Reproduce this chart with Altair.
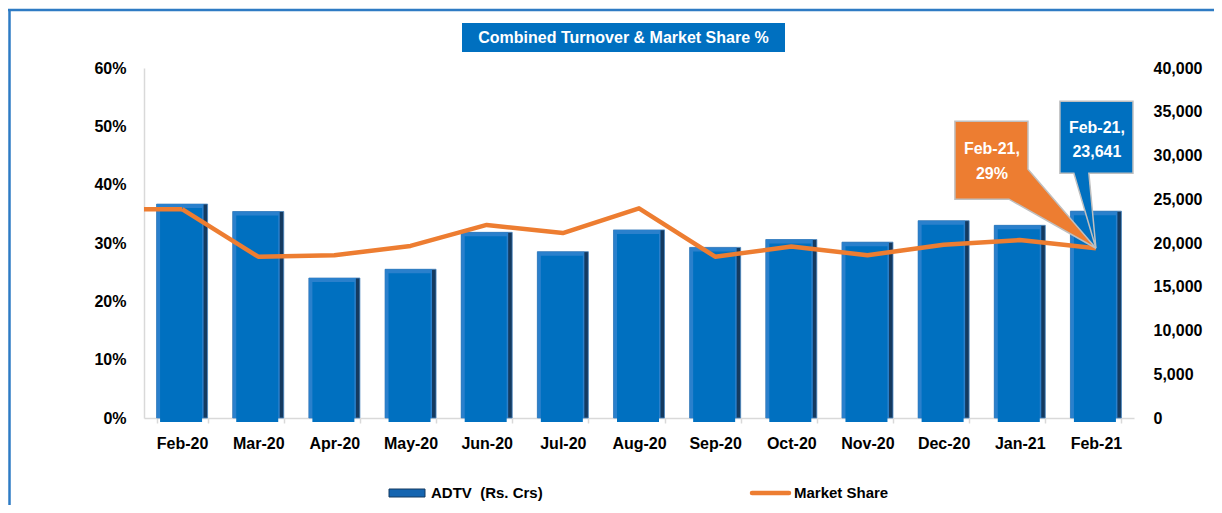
import altair as alt
import pandas as pd

months = ["Feb-20", "Mar-20", "Apr-20", "May-20", "Jun-20", "Jul-20", "Aug-20",
          "Sep-20", "Oct-20", "Nov-20", "Dec-20", "Jan-21", "Feb-21"]
adtv = [24450, 23600, 16000, 17000, 21220, 19010, 21500, 19500, 20400, 20100, 22550, 22020, 23641]
share = [0.358, 0.2765, 0.279, 0.295, 0.331, 0.317, 0.3595, 0.2765, 0.294, 0.279, 0.297, 0.305, 0.291]
pct_ticks = [0, 0.1, 0.2, 0.3, 0.4, 0.5, 0.6]
adtv_ticks = [0, 5000, 10000, 15000, 20000, 25000, 30000, 35000, 40000]
title_text = "Combined Turnover & Market Share %"
legend_bar_label = "ADTV\u00a0 (Rs. Crs)"
legend_line_label = "Market Share"

FONT = "Liberation Sans"
BLUE = "#0070C0"
ORANGE = "#ED7D31"

df = pd.DataFrame({"month": months, "adtv": adtv, "share": share})
last = months[-1]
first = months[0]

x_axis = alt.Axis(title="", labelAngle=0, domainColor="#D9D9D9", domainWidth=1.5,
                  tickColor="#D9D9D9", tickWidth=1.5, tickSize=5, tickBand="extent",
                  labelPadding=12, grid=False)
x = alt.X("month:N", sort=months, axis=x_axis,
          scale=alt.Scale(paddingInner=0.33, paddingOuter=0.165))

y_bar_axis = alt.Y("adtv:Q", scale=alt.Scale(domain=[0, 40000]),
                   axis=alt.Axis(orient="right", format=",d", values=adtv_ticks, grid=False,
                                 ticks=False, domain=False, labelPadding=19, title=""))
y_bar = alt.Y("adtv:Q", scale=alt.Scale(domain=[0, 40000]), axis=None)
y_share_axis = alt.Y("share:Q", scale=alt.Scale(domain=[0, 0.6]),
                     axis=alt.Axis(orient="left", format=".0%", values=pct_ticks, grid=False,
                                   ticks=False, domain=True, domainColor="#D9D9D9",
                                   domainWidth=1.5, labelPadding=18, title=""))
y_share = alt.Y("share:Q", scale=alt.Scale(domain=[0, 0.6]), axis=None)

base = alt.Chart(df)

# bars with bevel look
bar_dark = base.mark_bar(fill="#143A60", stroke="#4A86C0", strokeWidth=0.8).encode(x=x, y=y_bar_axis)
bar_light = base.mark_bar(fill="#2A80CC", width=47, xOffset=-2, y2Offset=-4).encode(x=x, y=y_bar)
bar_main = base.mark_bar(fill=BLUE, width=42, xOffset=-1, yOffset=4, y2Offset=-5).encode(x=x, y=y_bar)

line = base.mark_line(color=ORANGE, strokeWidth=4.5, strokeJoin="round").encode(x=x, y=y_share_axis)
stub = base.transform_filter(alt.datum.month == first).mark_rule(
    color=ORANGE, strokeWidth=4.5).encode(x=x, x2=alt.value(0), y=y_share)

last_df = base.transform_filter(alt.datum.month == last).transform_calculate(
    head="datum.month + ','")

orange_path = "M-0.94,-0.847 L-0.453,-0.847 L-0.453,-0.527 L0,0 L-0.58,-0.327 L-0.94,-0.327 Z"
blue_path = "M-0.24,-0.98 L0.247,-0.98 L0.247,-0.5 L-0.047,-0.5 L0,0 L-0.147,-0.5 L-0.24,-0.5 Z"

callout_orange = last_df.mark_point(shape=orange_path, size=90000, filled=True, fill=ORANGE,
                                    stroke="#BFBFBF", strokeWidth=1.5, opacity=1).encode(x=x, y=y_share)
callout_blue = last_df.mark_point(shape=blue_path, size=90000, filled=True, fill=BLUE,
                                  stroke="#BFBFBF", strokeWidth=1.5, opacity=1).encode(x=x, y=y_share)

txt = dict(color="white", font=FONT, fontWeight="bold", fontSize=16, align="center", baseline="middle")
t_o1 = last_df.mark_text(dx=-104, dy=-99, **txt).encode(x=x, y=y_share, text="head:N")
t_o2 = last_df.mark_text(dx=-104, dy=-74, **txt).encode(x=x, y=y_share,
                                                        text=alt.Text("share:Q", format=".0%"))
t_b1 = last_df.mark_text(dx=1, dy=-120, **txt).encode(x=x, y=y_share, text="head:N")
t_b2 = last_df.mark_text(dx=1, dy=-96, **txt).encode(x=x, y=y_share,
                                                     text=alt.Text("adtv:Q", format=",d"))

# title box
tdf = alt.Chart(pd.DataFrame({"t": [title_text]}))
title_box = tdf.mark_rect(fill=BLUE).encode(x=alt.value(318), x2=alt.value(641),
                                             y=alt.value(-45), y2=alt.value(-16))
title_txt = tdf.mark_text(color="white", font=FONT, fontWeight="bold", fontSize=16,
                          align="center", baseline="middle").encode(
    x=alt.value(479.5), y=alt.value(-30), text="t:N")

# outer border (top and left)
border_top = tdf.mark_rule(color="#2E7BC4", strokeWidth=2.5).encode(
    x=alt.value(-136), x2=alt.value(1070), y=alt.value(-58))
border_left = tdf.mark_rule(color="#2E7BC4", strokeWidth=2.5).encode(
    x=alt.value(-134.5), y=alt.value(-58), y2=alt.value(437))

# legend
ldf = alt.Chart(pd.DataFrame({"bar": [legend_bar_label], "line": [legend_line_label]}))
leg_bar = ldf.mark_rect(fill="#1565B0", stroke="#143A60", strokeWidth=1).encode(
    x=alt.value(245), x2=alt.value(281), y=alt.value(421), y2=alt.value(429))
leg_bar_t = ldf.mark_text(font=FONT, fontWeight="bold", fontSize=15, color="black",
                          align="left", baseline="middle").encode(
    x=alt.value(287), y=alt.value(425), text="bar:N")
leg_line = ldf.mark_rule(color=ORANGE, strokeWidth=4.5, strokeCap="round").encode(
    x=alt.value(608), x2=alt.value(645), y=alt.value(425))
leg_line_t = ldf.mark_text(font=FONT, fontWeight="bold", fontSize=15, color="black",
                           align="left", baseline="middle").encode(
    x=alt.value(650), y=alt.value(425), text="line:N")

chart = alt.layer(
    border_top, border_left, title_box, title_txt,
    bar_dark, bar_light, bar_main, stub, line,
    callout_blue, callout_orange, t_o1, t_o2, t_b1, t_b2,
    leg_bar, leg_bar_t, leg_line, leg_line_t,
).resolve_scale(y="independent").properties(
    width=990, height=350,
    padding={"left": 136, "top": 60, "right": 80, "bottom": 87},
    autosize=alt.AutoSizeParams(type="none"),
).configure_view(strokeWidth=0).configure_axis(
    labelFont=FONT, labelFontWeight="bold", labelFontSize=16, labelColor="black"
)

chart.save("out.html", embed_options={"renderer": "svg", "actions": False})
